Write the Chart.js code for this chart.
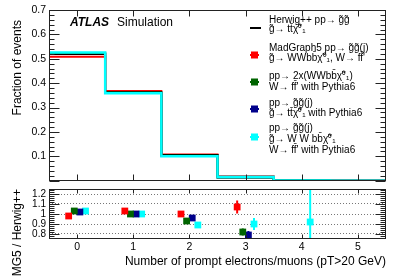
<!DOCTYPE html>
<html>
<head>
<meta charset="utf-8">
<script src="https://cdn.jsdelivr.net/npm/chart.js@4.4.0/dist/chart.umd.min.js"></script>
<style>
  body { margin: 0; background: #fff; }
  #top { position: absolute; left: 0; top: 0; width: 407px; height: 190px; }
  #bot { position: absolute; left: 0; top: 180px; width: 407px; height: 96px; }
</style>
</head>
<body>
<div id="top"><canvas id="histo"></canvas></div>
<div id="bot"><canvas id="ratio"></canvas></div>
<script>
// numero de eletrons/muons (um bin por valor)
var nLep = [0, 1, 2, 3, 4, 5];
var binEdges = [-0.5, 0.5, 1.5, 2.5, 3.5, 4.5, 5.5];

// fracao de eventos em cada bin
var herwig = [0.52, 0.362, 0.105, 0.0165, 0.0013, 0.0002];
var madgraph = [0.508, 0.368, 0.107, 0.0177, 0.0019, 0.0003];
var pythiaWW = [0.524, 0.362, 0.102, 0.0135, 0.0008, 0.0001];
var pythiaTT = [0.521, 0.362, 0.104, 0.013, 0.0006, 0.0001];
var pythiaGG = [0.526, 0.359, 0.1, 0.0149, 0.0012, 0.0001];

// razao MG5 / Herwig++ e erros
var ratioMadgraph = [0.98, 1.03, 1.0, 1.07, null, null];
var ratioPythiaWW = [1.03, 1.0, 0.93, 0.82, null, null];
var ratioPythiaTT = [1.02, 1.0, 0.96, 0.79, null, null];
var ratioPythiaGG = [1.03, 1.0, 0.89, 0.9, 0.92, null];
var errMadgraph = [0.01, 0.01, 0.015, 0.065, null, null];
var errPythiaWW = [0.01, 0.01, 0.015, 0.035, null, null];
var errPythiaTT = [0.01, 0.01, 0.015, 0.04, null, null];
var errPythiaGG = [0.01, 0.01, 0.015, 0.06, 0.5, null];

// ticks dos eixos
var xTicks = [0, 1, 2, 3, 4, 5];
var fracTicks = [0, 0.1, 0.2, 0.3, 0.4, 0.5, 0.6, 0.7];
var ratioTicks = [0.8, 0.9, 1, 1.1, 1.2];

var legendLabels = [
  ["Herwig++ pp\u2192 g\u0303g\u0303", "g\u0303\u2192 tt\u0304\u03C7\u0303\u2070\u2081"],
  ["MadGraph5 pp\u2192 g\u0303g\u0303(j)", "g\u0303\u2192 WWbb\u0304\u03C7\u0303\u2070\u2081, W\u2192 ff\u0304'"],
  ["pp\u2192 2x(WWbb\u0304\u03C7\u0303\u2070\u2081)", "W\u2192 ff\u0304' with Pythia6"],
  ["pp\u2192 g\u0303g\u0303(j)", "g\u0303\u2192 tt\u0304\u03C7\u0303\u2070\u2081 with Pythia6"],
  ["pp\u2192 g\u0303g\u0303(j)", "g\u0303\u2192 W W bb\u0304\u03C7\u0303\u2070\u2081", "W\u2192 ff\u0304' with Pythia6"]
];

var FONT = "'Liberation Sans', Arial, Helvetica, sans-serif";
var RED = "#ff0000", GREEN = "#006400", BLUE = "#00008b", CYAN = "#00ffff";

function histPoints(vals) {
  return binEdges.map(function (e, i) {
    return { x: e, y: vals[Math.min(i, vals.length - 1)] };
  });
}

function ratioPoints(vals, errs, shift) {
  var pts = [];
  for (var i = 0; i < nLep.length; i++) {
    if (vals[i] == null) continue;
    pts.push({ x: nLep[i] + shift, y: vals[i], err: errs[i] });
  }
  return pts;
}

function fixWidth(w) { return function (s) { s.width = w; }; }
function fixHeight(h) { return function (s) { s.height = h; }; }

// moldura estilo ROOT com ticks para dentro
function frameTicks(cfg) {
  return {
    id: "frameTicks",
    afterDraw: function (chart) {
      var ctx = chart.ctx, a = chart.chartArea;
      var xs = chart.scales.x, ys = chart.scales.y;
      var L = Math.round(a.left) + 0.5, R = Math.round(a.right) - 0.5;
      var T = Math.round(a.top) + 0.5, B = Math.round(a.bottom) - 0.5;
      ctx.save();
      ctx.strokeStyle = "#222";
      ctx.lineWidth = 1;
      ctx.beginPath();
      for (var v = cfg.yMin; v <= cfg.yMax + 1e-9; v += cfg.yMinor) {
        var p = Math.round(ys.getPixelForValue(v)) + 0.5;
        if (p < T || p > B) continue;
        ctx.moveTo(L, p); ctx.lineTo(L + 5, p);
        ctx.moveTo(R, p); ctx.lineTo(R - 5, p);
      }
      cfg.yMajor.forEach(function (v) {
        var p = Math.round(ys.getPixelForValue(v)) + 0.5;
        ctx.moveTo(L, p); ctx.lineTo(L + 10, p);
        ctx.moveTo(R, p); ctx.lineTo(R - 10, p);
      });
      xTicks.forEach(function (v) {
        var p = Math.round(xs.getPixelForValue(v)) + 0.5;
        ctx.moveTo(p, B); ctx.lineTo(p, B - cfg.xLen);
        ctx.moveTo(p, T); ctx.lineTo(p, T + cfg.xLen);
      });
      ctx.stroke();
      ctx.strokeRect(L, T, R - L, B - T);
      ctx.restore();
    }
  };
}

// barras de erro verticais
var errorBars = {
  id: "errorBars",
  beforeDatasetsDraw: function (chart) {
    var ctx = chart.ctx, a = chart.chartArea;
    var xs = chart.scales.x, ys = chart.scales.y;
    ctx.save();
    ctx.beginPath();
    ctx.rect(a.left, a.top, a.right - a.left, a.bottom - a.top);
    ctx.clip();
    chart.data.datasets.forEach(function (ds) {
      ctx.strokeStyle = ds.borderColor;
      ctx.lineWidth = 2;
      ds.data.forEach(function (pt) {
        if (pt.err == null) return;
        var px = xs.getPixelForValue(pt.x);
        ctx.beginPath();
        ctx.moveTo(px, ys.getPixelForValue(pt.y - pt.err));
        ctx.lineTo(px, ys.getPixelForValue(pt.y + pt.err));
        ctx.stroke();
      });
    });
    ctx.restore();
  }
};

// rotulo ATLAS, titulo do eixo y e legenda
var topTexts = {
  id: "topTexts",
  afterDraw: function (chart) {
    var ctx = chart.ctx;
    ctx.save();
    ctx.fillStyle = "#000";
    ctx.textBaseline = "middle";
    ctx.font = "italic bold 12px " + FONT;
    ctx.fillText("ATLAS", 70, 23);
    ctx.font = "12px " + FONT;
    ctx.fillText("Simulation", 117, 23);

    ctx.save();
    ctx.translate(18, 20);
    ctx.rotate(-Math.PI / 2);
    ctx.textAlign = "right";
    ctx.font = "12px " + FONT;
    ctx.fillText("Fraction of events", 0, 0);
    ctx.restore();

    var lines = [[20, 29], [48, 58], [76, 87], [103, 113], [128, 139, 150]];
    var marks = [28, 55, 82, 109, 137];
    var cols = ["#000", RED, GREEN, BLUE, CYAN];
    ctx.font = "10px " + FONT;
    legendLabels.forEach(function (lab, i) {
      lab.forEach(function (t, j) { ctx.fillText(t, 269, lines[i][j]); });
      ctx.fillStyle = cols[i];
      if (i === 0) {
        ctx.fillRect(250, marks[i] - 1, 11, 2);
      } else {
        ctx.fillRect(250, marks[i] - 1, 9, 2);
        ctx.fillRect(251, marks[i] - 3.5, 7, 7);
      }
      ctx.fillStyle = "#000";
    });
    ctx.restore();
  }
};

function histLine(vals, color, width) {
  return {
    data: histPoints(vals),
    borderColor: color,
    borderWidth: width,
    stepped: true,
    pointRadius: 0,
    fill: false
  };
}

new Chart(document.getElementById("histo"), {
  type: "line",
  data: {
    datasets: [
      histLine(pythiaGG, CYAN, 2.5),
      histLine(pythiaWW, GREEN, 2),
      histLine(herwig, "#000", 2),
      histLine(pythiaTT, BLUE, 2),
      histLine(madgraph, RED, 2)
    ]
  },
  options: {
    responsive: true,
    maintainAspectRatio: false,
    animation: false,
    devicePixelRatio: 1,
    layout: { padding: { left: 0, right: 21, top: 10, bottom: 6 } },
    plugins: { legend: { display: false }, tooltip: { enabled: false } },
    scales: {
      x: { type: "linear", min: -0.5, max: 5.5, display: false },
      y: {
        type: "linear",
        min: 0,
        max: 0.7,
        afterFit: fixWidth(49),
        afterBuildTicks: function (s) { s.ticks = fracTicks.map(function (v) { return { value: v }; }); },
        grid: { display: false, drawTicks: false },
        border: { display: false },
        ticks: {
          padding: 3,
          autoSkip: false,
          color: "#000",
          font: { family: FONT, size: 10.5 },
          callback: function (v) { return v === 0 ? "" : v.toFixed(1); }
        }
      }
    }
  },
  plugins: [frameTicks({ yMin: 0, yMax: 0.7, yMinor: 0.02, yMajor: fracTicks, xLen: 6 }), topTexts]
});

new Chart(document.getElementById("ratio"), {
  type: "scatter",
  data: {
    datasets: [
      { data: ratioPoints(ratioMadgraph, errMadgraph, -0.15), borderColor: RED, backgroundColor: RED },
      { data: ratioPoints(ratioPythiaWW, errPythiaWW, -0.05), borderColor: GREEN, backgroundColor: GREEN },
      { data: ratioPoints(ratioPythiaTT, errPythiaTT, 0.05), borderColor: BLUE, backgroundColor: BLUE },
      { data: ratioPoints(ratioPythiaGG, errPythiaGG, 0.15), borderColor: CYAN, backgroundColor: CYAN }
    ]
  },
  options: {
    responsive: true,
    maintainAspectRatio: false,
    animation: false,
    devicePixelRatio: 1,
    layout: { padding: { left: 0, right: 21, top: 4, bottom: 0 } },
    elements: { point: { pointStyle: "rect", radius: 4.8, borderWidth: 0 } },
    plugins: { legend: { display: false }, tooltip: { enabled: false } },
    scales: {
      x: {
        type: "linear",
        min: -0.5,
        max: 5.5,
        afterFit: fixHeight(37),
        afterBuildTicks: function (s) { s.ticks = xTicks.map(function (v) { return { value: v }; }); },
        grid: { display: false, drawTicks: false },
        border: { display: false },
        ticks: { padding: 2, autoSkip: false, color: "#000", font: { family: FONT, size: 10.5 } },
        title: {
          display: true,
          text: "Number of prompt electrons/muons (pT>20 GeV)",
          align: "end",
          color: "#000",
          font: { family: FONT, size: 12 },
          padding: { top: 0, bottom: 7 }
        }
      },
      y: {
        type: "linear",
        min: 0.75,
        max: 1.25,
        afterFit: fixWidth(49),
        afterBuildTicks: function (s) { s.ticks = ratioTicks.map(function (v) { return { value: v }; }); },
        grid: { color: "#777", borderDash: [1, 2], drawTicks: false },
        border: { display: false, dash: [1, 2] },
        ticks: {
          padding: 3,
          autoSkip: false,
          color: "#000",
          font: { family: FONT, size: 10 },
          callback: function (v) { return String(Math.round(v * 10) / 10); }
        },
        title: {
          display: true,
          text: "MG5 / Herwig++",
          align: "end",
          color: "#000",
          font: { family: FONT, size: 12 },
          padding: { top: 10, bottom: 0 }
        }
      }
    }
  },
  plugins: [errorBars, frameTicks({ yMin: 0.76, yMax: 1.24, yMinor: 0.02, yMajor: ratioTicks, xLen: 4 })]
});
</script>
</body>
</html>
